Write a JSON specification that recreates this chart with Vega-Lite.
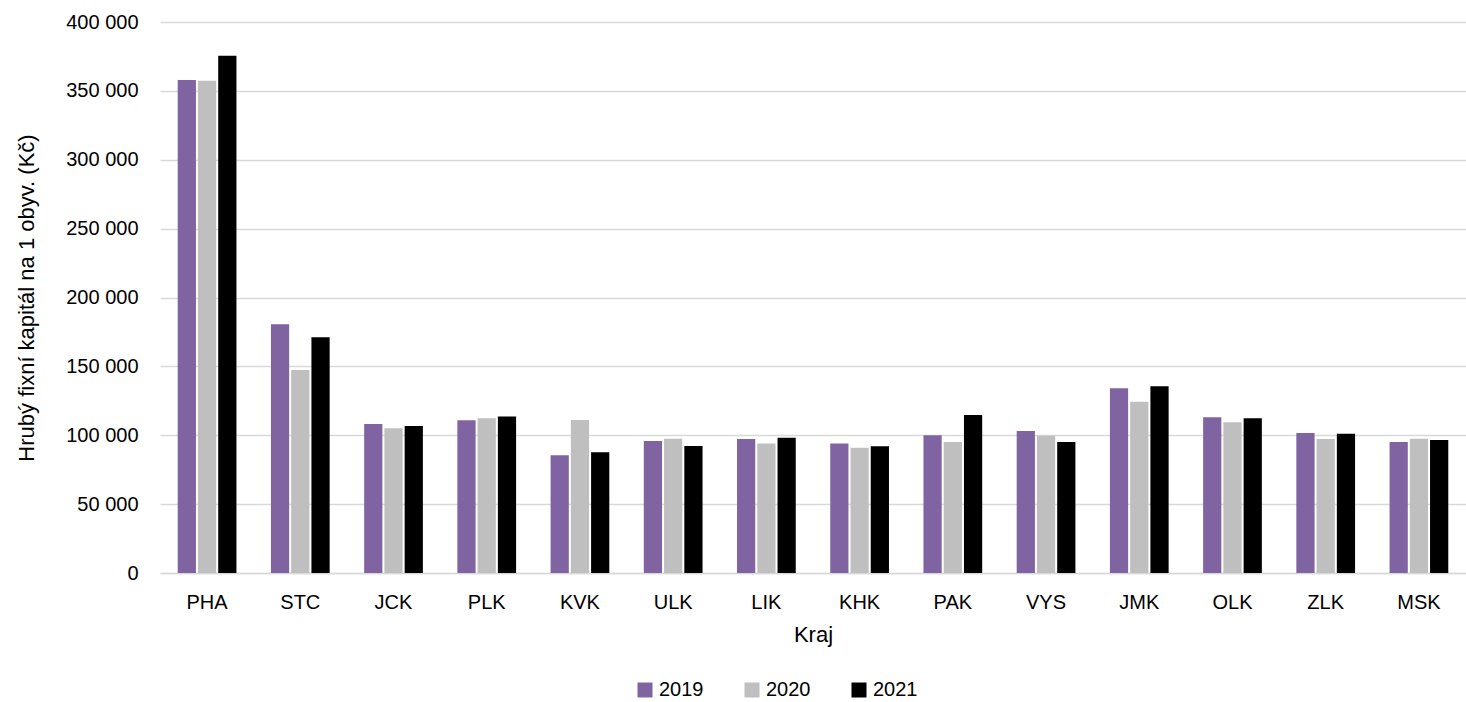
{
  "$schema": "https://vega.github.io/schema/vega-lite/v6.json",
  "autosize": "none",
  "width": 1306,
  "height": 551,
  "padding": {"left": 160, "top": 22, "right": 0, "bottom": 129},
  "background": "white",
  "config": {
    "font": "Liberation Sans",
    "view": {"stroke": null},
    "axis": {"labelFont": "Liberation Sans", "titleFont": "Liberation Sans", "labelColor": "#000000", "titleColor": "#000000", "titleFontWeight": "normal"}
  },
  "data": {
    "values": [
      {"kraj": "PHA", "rok": "2019", "hodnota": 357900},
      {"kraj": "PHA", "rok": "2020", "hodnota": 357400},
      {"kraj": "PHA", "rok": "2021", "hodnota": 375500},
      {"kraj": "STC", "rok": "2019", "hodnota": 180500},
      {"kraj": "STC", "rok": "2020", "hodnota": 147400},
      {"kraj": "STC", "rok": "2021", "hodnota": 171100},
      {"kraj": "JCK", "rok": "2019", "hodnota": 108200},
      {"kraj": "JCK", "rok": "2020", "hodnota": 105000},
      {"kraj": "JCK", "rok": "2021", "hodnota": 106700},
      {"kraj": "PLK", "rok": "2019", "hodnota": 110800},
      {"kraj": "PLK", "rok": "2020", "hodnota": 112300},
      {"kraj": "PLK", "rok": "2021", "hodnota": 113700},
      {"kraj": "KVK", "rok": "2019", "hodnota": 85400},
      {"kraj": "KVK", "rok": "2020", "hodnota": 111100},
      {"kraj": "KVK", "rok": "2021", "hodnota": 87600},
      {"kraj": "ULK", "rok": "2019", "hodnota": 95800},
      {"kraj": "ULK", "rok": "2020", "hodnota": 97500},
      {"kraj": "ULK", "rok": "2021", "hodnota": 92200},
      {"kraj": "LIK", "rok": "2019", "hodnota": 97300},
      {"kraj": "LIK", "rok": "2020", "hodnota": 94100},
      {"kraj": "LIK", "rok": "2021", "hodnota": 98200},
      {"kraj": "KHK", "rok": "2019", "hodnota": 94100},
      {"kraj": "KHK", "rok": "2020", "hodnota": 91000},
      {"kraj": "KHK", "rok": "2021", "hodnota": 92000},
      {"kraj": "PAK", "rok": "2019", "hodnota": 100000},
      {"kraj": "PAK", "rok": "2020", "hodnota": 95100},
      {"kraj": "PAK", "rok": "2021", "hodnota": 114700},
      {"kraj": "VYS", "rok": "2019", "hodnota": 103100},
      {"kraj": "VYS", "rok": "2020", "hodnota": 99700},
      {"kraj": "VYS", "rok": "2021", "hodnota": 95100},
      {"kraj": "JMK", "rok": "2019", "hodnota": 134100},
      {"kraj": "JMK", "rok": "2020", "hodnota": 124400},
      {"kraj": "JMK", "rok": "2021", "hodnota": 135500},
      {"kraj": "OLK", "rok": "2019", "hodnota": 113000},
      {"kraj": "OLK", "rok": "2020", "hodnota": 109400},
      {"kraj": "OLK", "rok": "2021", "hodnota": 112300},
      {"kraj": "ZLK", "rok": "2019", "hodnota": 101600},
      {"kraj": "ZLK", "rok": "2020", "hodnota": 97300},
      {"kraj": "ZLK", "rok": "2021", "hodnota": 101100},
      {"kraj": "MSK", "rok": "2019", "hodnota": 95100},
      {"kraj": "MSK", "rok": "2020", "hodnota": 97500},
      {"kraj": "MSK", "rok": "2021", "hodnota": 96600}
    ]
  },
  "mark": {"type": "bar"},
  "encoding": {
    "x": {
      "field": "kraj",
      "type": "nominal",
      "sort": null,
      "title": "Kraj",
      "scale": {"paddingInner": 0.37, "paddingOuter": 0.19},
      "axis": {
        "labelAngle": 0,
        "labelFontSize": 20,
        "labelPadding": 19,
        "titleFontSize": 22,
        "titlePadding": 12,
        "ticks": false,
        "domainColor": "#d9d9d9",
        "domainWidth": 1.5,
        "grid": false
      }
    },
    "xOffset": {
      "field": "rok",
      "type": "nominal",
      "scale": {"paddingInner": 0.1, "paddingOuter": 0}
    },
    "y": {
      "field": "hodnota",
      "type": "quantitative",
      "title": "Hrubý fixní kapitál na 1 obyv. (Kč)",
      "scale": {"domain": [0, 400000], "nice": false},
      "axis": {
        "values": [0, 50000, 100000, 150000, 200000, 250000, 300000, 350000, 400000],
        "labelExpr": "replace(format(datum.value, ','), ',', ' ')",
        "labelFontSize": 20,
        "labelPadding": 22,
        "titleFontSize": 22,
        "titlePadding": 27,
        "ticks": false,
        "domain": false,
        "gridColor": "#d9d9d9",
        "gridWidth": 1.5
      }
    },
    "color": {
      "field": "rok",
      "type": "nominal",
      "title": null,
      "scale": {"domain": ["2019", "2020", "2021"], "range": ["#8064a2", "#bfbfbf", "#000000"]},
      "legend": {
        "orient": "none",
        "direction": "horizontal",
        "legendX": 475,
        "legendY": 658,
        "symbolType": "square",
        "symbolSize": 225,
        "symbolStrokeWidth": 0,
        "labelFontSize": 20,
        "labelFont": "Liberation Sans",
        "labelColor": "#000000",
        "columnPadding": 38,
        "labelOffset": 4
      }
    }
  }
}
